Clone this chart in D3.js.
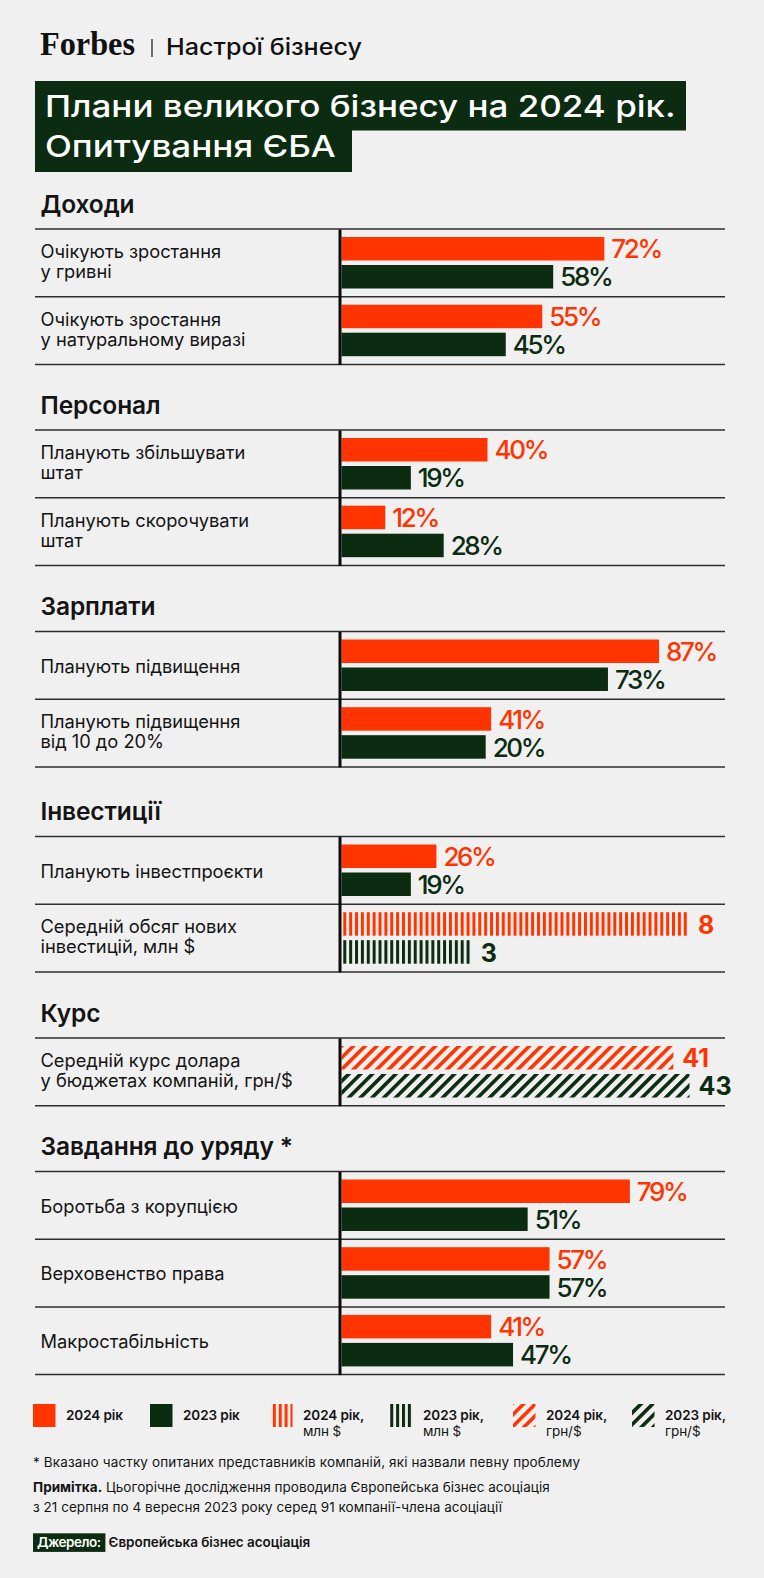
<!DOCTYPE html>
<html><head><meta charset="utf-8">
<script src="https://cdn.jsdelivr.net/npm/d3@7"></script>
<style>
body{margin:0;background:#f0f0f0;}
svg{display:block;font-family:Inter,"Noto Sans",sans-serif;}
</style>
</head><body>
<svg id="c" width="764" height="1578"></svg>
<script>
// ---------- DATA ----------
const sections = ["Доходи","Персонал","Зарплати","Інвестиції","Курс","Завдання до уряду *"];
const rowSection = [0,0,1,1,2,2,3,3,4,5,5,5];
const rowLabels = [
  ["Очікують зростання","у гривні"],
  ["Очікують зростання","у натуральному виразі"],
  ["Планують збільшувати","штат"],
  ["Планують скорочувати","штат"],
  ["Планують підвищення"],
  ["Планують підвищення","від 10 до 20%"],
  ["Планують інвестпроєкти"],
  ["Середній обсяг нових","інвестицій, млн $"],
  ["Середній курс долара","у бюджетах компаній, грн/$"],
  ["Боротьба з корупцією"],
  ["Верховенство права"],
  ["Макростабільність"]
];
const rowUnits = ["pct","pct","pct","pct","pct","pct","pct","musd","uah","pct","pct","pct"];
// bar lengths as drawn in the picture
const values2024 = [72,55,40,12,87,41,26,8,41,79,57,41];
const values2023 = [58,45,19,28,73,39.5,19,3,43,51,57,47];
// value labels as printed
const labels2024 = ["72%","55%","40%","12%","87%","41%","26%","8","41","79%","57%","41%"];
const labels2023 = ["58%","45%","19%","28%","73%","20%","19%","3","43","51%","57%","47%"];
const legendItems = [
  {key:"solid24", l1:"2024 рік", l2:""},
  {key:"solid23", l1:"2023 рік", l2:""},
  {key:"vert24", l1:"2024 рік,", l2:"млн $"},
  {key:"vert23", l1:"2023 рік,", l2:"млн $"},
  {key:"diag24", l1:"2024 рік,", l2:"грн/$"},
  {key:"diag23", l1:"2023 рік,", l2:"грн/$"}
];
const titleLines = ["Плани великого бізнесу на 2024 рік.","Опитування ЄБА"];
const subtitle = "Настрої бізнесу";
const footnote = "* Вказано частку опитаних представників компаній, які назвали певну проблему";
const noteBold = "Примітка.";
const noteLines = [" Цьогорічне дослідження проводила Європейська бізнес асоціація","з 21 серпня по 4 вересня 2023 року серед 91 компанії-члена асоціації"];
const sourceLabel = "Джерело:";
const sourceText = "Європейська бізнес асоціація";

// ---------- STYLE / LAYOUT ----------
const RED = "#ff3400", GREEN = "#0b2c10", INK = "#141414", BG = "#f0f0f0";
const L = {x0:35, x1:725, axisX:339.5, barX:341.5, rowH:67.7, barH:23.5, redOff:8, greenOff:36,
           sectionTops:[229,430,631.5,836.5,1038,1171.5]};

const svg = d3.select("#c");
svg.append("rect").attr("width",764).attr("height",1578).attr("fill",BG);

function natural(str,size,weight,family){
  const t = svg.append("text").attr("font-size",size).attr("font-weight",weight)
    .attr("font-family",family||null).text(str);
  const w = t.node().getComputedTextLength(); t.remove(); return w;
}
function lsFor(str,size,weight,target,family){
  return (target - natural(str,size,weight,family))/Math.max(1,str.length-1);
}

// ---------- PATTERNS ----------
const defs = svg.append("defs");
function vPattern(id,color){
  const p = defs.append("pattern").attr("id",id).attr("patternUnits","userSpaceOnUse")
    .attr("x",343.3).attr("y",0).attr("width",5.87).attr("height",10);
  p.append("rect").attr("x",0).attr("y",0).attr("width",3).attr("height",10).attr("fill",color);
}
function dPattern(id,color){
  const p = defs.append("pattern").attr("id",id).attr("patternUnits","userSpaceOnUse")
    .attr("width",8.3).attr("height",10).attr("patternTransform","rotate(45)");
  p.append("rect").attr("x",0).attr("y",0).attr("width",3.6).attr("height",10).attr("fill",color);
}
vPattern("vert24",RED); vPattern("vert23",GREEN);
dPattern("diag24",RED); dPattern("diag23",GREEN);
const fillFor = {pct:[RED,GREEN], musd:["url(#vert24)","url(#vert23)"], uah:["url(#diag24)","url(#diag23)"]};

// ---------- HEADER ----------
svg.append("text").attr("x",40).attr("y",55).attr("font-family","Liberation Serif, serif")
  .attr("font-weight",700).attr("font-size",33).attr("fill","#111")
  .attr("textLength",95).attr("lengthAdjust","spacingAndGlyphs").text("Forbes");
svg.append("line").attr("x1",152).attr("x2",152).attr("y1",39).attr("y2",57)
  .attr("stroke","#111").attr("stroke-width",1.2);
svg.append("text").attr("x",166).attr("y",55).attr("font-size",23).attr("font-weight",500)
  .attr("fill","#111").attr("textLength",196).attr("lengthAdjust","spacingAndGlyphs").text(subtitle);

svg.append("rect").attr("x",35).attr("y",81).attr("width",651).attr("height",49.5).attr("fill",GREEN);
svg.append("rect").attr("x",35).attr("y",130).attr("width",317).attr("height",42).attr("fill",GREEN);
const titleTargets = [630.6,290.7];
titleLines.forEach((s,i)=>{
  svg.append("text").attr("x",45).attr("y",116.7+i*40).attr("font-size",30.5).attr("font-weight",500)
    .attr("fill","#fff").attr("textLength",titleTargets[i]).attr("lengthAdjust","spacingAndGlyphs").text(s);
});

// ---------- SCALES ----------
const xPct = d3.scaleLinear().domain([0,100]).range([L.barX, 706.5]);
const xMusd = d3.scaleLinear().domain([0,8]).range([L.barX, 689]);
const xUah = d3.scaleLinear().domain([0,43]).range([L.barX, 689.5]);
const xFor = {pct:xPct, musd:xMusd, uah:xUah};

// rows
const rows = rowLabels.map((lab,i)=>{
  const s = rowSection[i];
  const idx = rowSection.slice(0,i).filter(v=>v===s).length;
  return {i, s, lab, unit:rowUnits[i], v24:values2024[i], v23:values2023[i],
          t24:labels2024[i], t23:labels2023[i], top: L.sectionTops[s] + idx*L.rowH};
});

// section headers + rules
const lsHead = lsFor("Завдання до уряду *",24.5,600,252.6);
sections.forEach((name,s)=>{
  svg.append("text").attr("x",40.5).attr("y",L.sectionTops[s]-16.5).attr("font-size",24.5)
    .attr("font-weight",600).attr("fill",INK).attr("letter-spacing",lsHead).text(name);
  const n = rowSection.filter(v=>v===s).length;
  const top = L.sectionTops[s];
  d3.range(n+1).forEach(k=>{
    svg.append("line").attr("x1",L.x0).attr("x2",L.x1)
      .attr("y1",top+k*L.rowH).attr("y2",top+k*L.rowH)
      .attr("stroke","#2e2e2e").attr("stroke-width",1.5);
  });
});

// row labels
const lsRow = lsFor("Планують підвищення",18.3,400,200);
rows.forEach(r=>{
  const t = svg.append("text").attr("x",40.5).attr("font-size",18.3).attr("font-weight",400)
    .attr("fill",INK).attr("letter-spacing",lsRow);
  if(r.lab.length===1){
    t.attr("y",r.top+41).text(r.lab[0]);
  } else {
    r.lab.forEach((line,k)=>{
      t.append("tspan").attr("x",40.5).attr("y",r.top+29+k*20).text(line);
    });
  }
});

// bars
const lsVal = lsFor("72%",26,500,52);
rows.forEach(r=>{
  const x = xFor[r.unit];
  [[r.v24,r.t24,L.redOff,0],[r.v23,r.t23,L.greenOff,1]].forEach(([v,lab,off,k])=>{
    const y = r.top + off;
    svg.append("rect").attr("x",L.barX).attr("y",y).attr("width",x(v)-L.barX).attr("height",L.barH)
      .attr("fill",fillFor[r.unit][k]);
    const isPct = r.unit==="pct";
    svg.append("text").attr("x",x(v)+(isPct?7:9)).attr("y",y+21.3)
      .attr("font-size",isPct?26:25).attr("font-weight",isPct?500:700)
      .attr("letter-spacing",isPct?lsVal:0)
      .attr("fill",k===0?RED:GREEN).text(lab);
  });
});

// axis (vertical baseline per section)
sections.forEach((name,s)=>{
  const n = rowSection.filter(v=>v===s).length;
  const top = L.sectionTops[s];
  const yBand = d3.scaleBand().domain(d3.range(n)).range([top, top+n*L.rowH]);
  const g = svg.append("g").attr("transform",`translate(${L.axisX},0)`)
    .call(d3.axisLeft(yBand).tickSize(0).tickFormat(""));
  g.select(".domain").attr("stroke","#0d0d0d").attr("stroke-width",3);
});

// ---------- LEGEND ----------
const legX = [33,150,270,390,513,632];
const lsLeg = lsFor("2024 рік",13.5,600,57);
const legFill = {solid24:RED, solid23:GREEN, vert24:"url(#vert24)", vert23:"url(#vert23)",
                 diag24:"url(#diag24)", diag23:"url(#diag23)"};
legendItems.forEach((d,i)=>{
  svg.append("rect").attr("x",legX[i]).attr("y",1404).attr("width",22.5).attr("height",23)
    .attr("fill",legFill[d.key]);
  svg.append("text").attr("x",legX[i]+33).attr("y",1420).attr("font-size",13.5).attr("font-weight",600)
    .attr("fill",INK).attr("letter-spacing",lsLeg).text(d.l1);
  if(d.l2) svg.append("text").attr("x",legX[i]+33).attr("y",1435.5).attr("font-size",13.5)
    .attr("font-weight",400).attr("fill",INK).attr("letter-spacing",lsLeg).text(d.l2);
});

// ---------- FOOTER ----------
svg.append("text").attr("x",33).attr("y",1467.3).attr("font-size",13.5).attr("fill",INK)
  .attr("letter-spacing",lsFor(footnote,13.5,400,547)).text(footnote);
const lsNote = lsFor(noteLines[1],13.5,400,469);
const n1 = svg.append("text").attr("x",33).attr("y",1491.7).attr("font-size",13.5).attr("fill",INK)
  .attr("letter-spacing",lsNote);
n1.append("tspan").attr("font-weight",700).text(noteBold);
n1.append("tspan").text(noteLines[0]);
svg.append("text").attr("x",33).attr("y",1511.7).attr("font-size",13.5).attr("fill",INK)
  .attr("letter-spacing",lsNote).text(noteLines[1]);

svg.append("rect").attr("x",33).attr("y",1533.3).attr("width",72.4).attr("height",18.6).attr("fill",GREEN);
svg.append("text").attr("x",37).attr("y",1546.7).attr("font-size",13.5).attr("font-weight",600)
  .attr("fill","#fff").attr("letter-spacing",lsFor(sourceLabel,13.5,600,64)).text(sourceLabel);
svg.append("text").attr("x",108.5).attr("y",1546.7).attr("font-size",13.5).attr("font-weight",600)
  .attr("fill",INK).attr("letter-spacing",lsFor(sourceText,13.5,600,201.7)).text(sourceText);
</script>
</body></html>
